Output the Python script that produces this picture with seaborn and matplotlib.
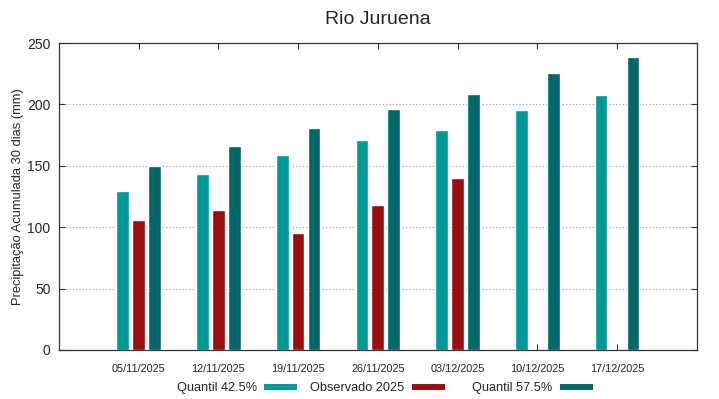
import numpy as np
import pandas as pd
import matplotlib
matplotlib.use("Agg")
import matplotlib.pyplot as plt
from matplotlib.lines import Line2D
import seaborn as sns

# datas e valores
datas = ["05/11/2025", "12/11/2025", "19/11/2025", "26/11/2025",
         "03/12/2025", "10/12/2025", "17/12/2025"]
q425 = [129.3, 143.7, 158.6, 171.1, 178.9, 195.2, 207.4]
obs2025 = [105.5, 113.9, 95.2, 117.7, 139.9, np.nan, np.nan]
q575 = [150.2, 166.5, 180.6, 196.3, 208.8, 225.6, 238.3]
series = ["Quantil 42.5%", "Observado 2025", "Quantil 57.5%"]
cores = ["#009999", "#990f0f", "#006868"]

df = pd.DataFrame({"data": datas * 3,
                   "serie": np.repeat(series, len(datas)),
                   "valor": q425 + obs2025 + q575})

sns.set_style("white")
plt.rcParams["font.family"] = ["Liberation Sans", "DejaVu Sans"]

fig = plt.figure(figsize=(7.19, 3.99), dpi=100)
ax = fig.add_axes([0.082, 0.123, 0.887, 0.769])

sns.barplot(data=df, x="data", y="valor", hue="serie", hue_order=series,
            palette=cores, width=0.6, gap=0.2, saturation=1, ax=ax,
            legend=False, errorbar=None)

ax.set_xlim(-1, 7)
ax.set_ylim(0, 250)
ax.set_yticks([0, 50, 100, 150, 200, 250])
ax.set_xlabel("")
ax.set_ylabel("Precipitação Acumulada 30 dias (mm)", fontsize=9.3, labelpad=2)
ax.set_title("Rio Juruena", fontsize=14, pad=14)

for y in [50, 100, 150, 200]:
    ax.axhline(y, color="#999999", lw=0.8, ls=(0, (1, 2)), zorder=0)

for s in ax.spines.values():
    s.set_color("#333333")
    s.set_linewidth(0.9)
ax.tick_params(axis="x", direction="in", top=True, bottom=True, length=4,
               labelsize=7.8, pad=10, color="#333333")
ax.tick_params(axis="y", direction="in", left=True, right=True, length=4,
               labelsize=10, pad=6, color="#333333")

# legenda estilo gnuplot: colunas de largura fixa, texto antes da amostra
fim_colunas = [297 / 719, 445 / 719, 593 / 719]
for nome, cor, xr in zip(series, cores, fim_colunas):
    h = Line2D([0], [0], color=cor, lw=4.3, solid_capstyle="butt")
    fig.legend([h], [nome], loc="center right", bbox_to_anchor=(xr, 0.027),
               frameon=False, markerfirst=False, fontsize=9.2,
               handlelength=2.6, handletextpad=0.55, borderpad=0,
               borderaxespad=0)

fig.savefig("out.png", dpi=100)
